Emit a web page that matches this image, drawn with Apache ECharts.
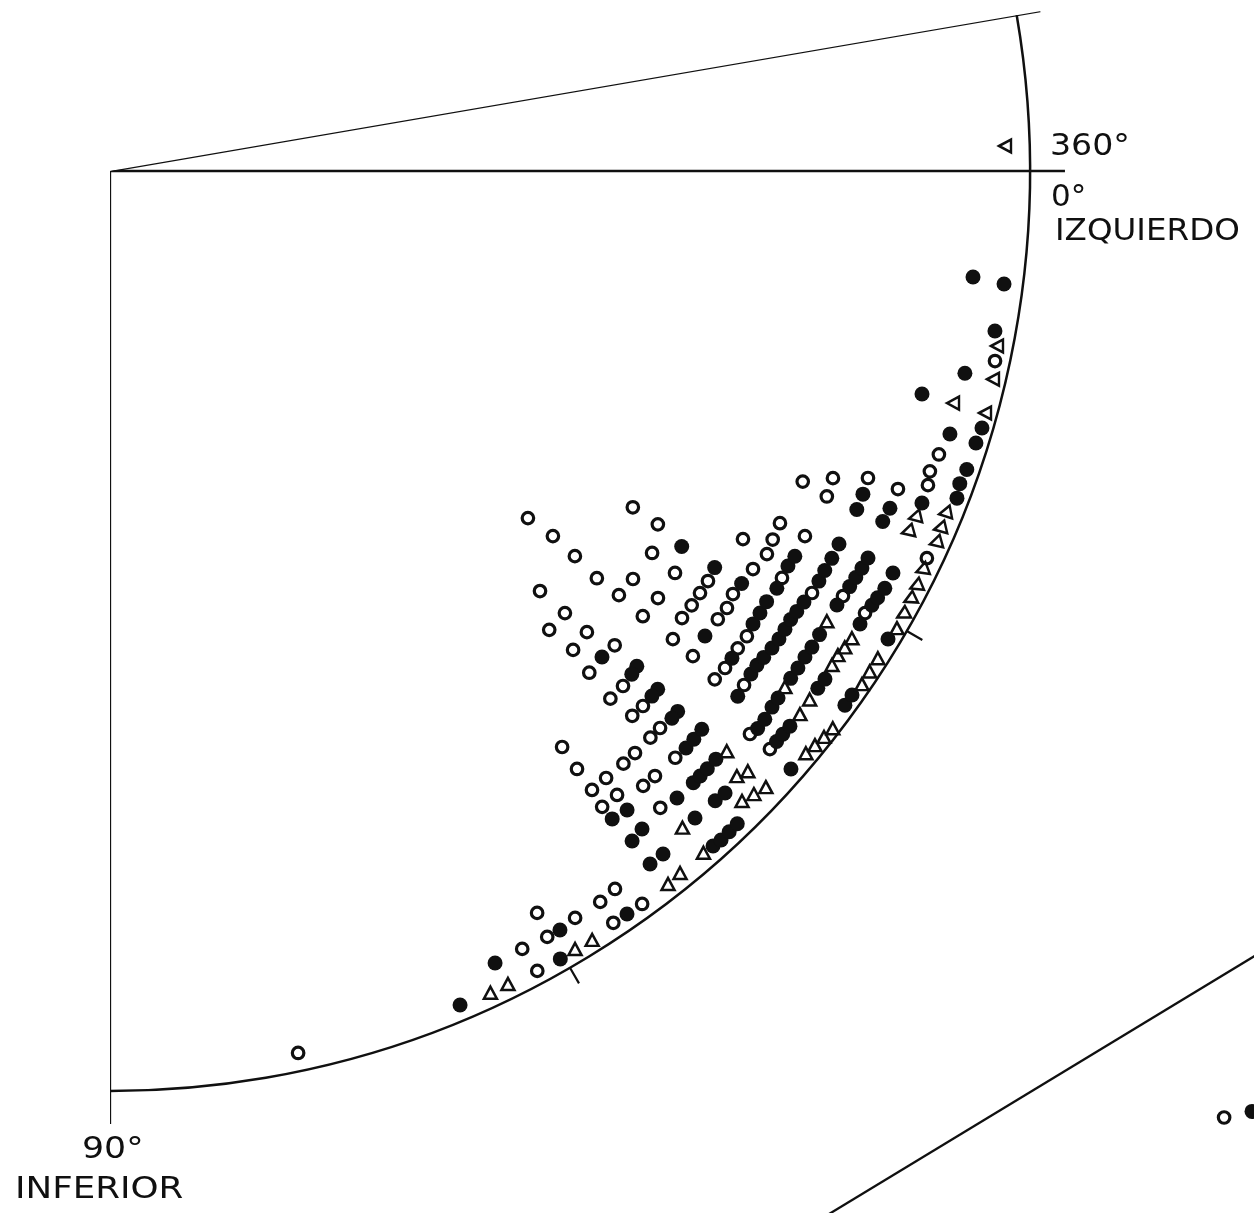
<!DOCTYPE html>
<html>
<head>
<meta charset="utf-8">
<script src="https://cdn.jsdelivr.net/npm/echarts@6/dist/echarts.min.js"></script>
<style>
  html, body { margin: 0; padding: 0; background: #ffffff; }
  #chart { width: 1254px; height: 1213px; }
</style>
</head>
<body>
<div id="chart"></div>
<script>
// Each point: [angle in degrees (0 = izquierdo, 90 = inferior), eccentricity (outer arc = 100)]
const openCircles = [
  [39.71,59.05],[39.50,62.39],[39.64,65.62],[44.33,65.34],[39.91,68.99],[44.18,68.95],[46.25,69.04],
  [44.04,72.11],[45.96,72.41],[43.22,75.28],[46.31,75.42],[32.75,67.57],[32.82,70.86],[35.17,72.08],
  [37.96,72.10],[39.81,72.01],[37.93,75.51],[39.88,75.47],[35.43,75.37],[39.75,79.58],[39.77,82.43],
  [38.01,78.91],[36.75,78.91],[35.58,78.85],[34.44,78.81],
  [45.11,79.01],[46.52,79.04],[45.11,82.08],[46.21,82.03],[45.36,85.09],[46.36,85.11],[46.07,88.56],
  [47.95,85.20],[49.10,85.23],[47.99,88.51],[49.07,88.46],[49.17,91.48],[51.87,79.59],[52.01,82.47],
  [50.74,85.21],[52.09,85.27],[50.90,87.39],[52.26,87.40],
  [36.41,82.09],[35.31,82.18],[34.18,81.85],[31.76,82.20],[30.25,82.66],[29.08,82.42],[27.73,82.27],
  [30.18,79.59],[27.72,85.33],[24.15,82.52],[23.02,85.38],[24.42,85.57],[22.05,88.89],[21.98,92.36],
  [40.05,85.87],[38.94,85.95],[37.25,85.72],[36.15,85.73],[31.20,85.39],[39.03,88.72],[31.01,89.03],
  [41.34,92.65],[30.11,92.10],[41.22,95.36],[30.35,95.10],[25.36,98.26],[18.88,95.22],[20.12,94.91],
  [21.01,95.24],[12.12,98.39],
  [77.96,98.02],[62.08,95.69],[61.89,98.57],[60.07,93.05],[60.28,95.86],[58.09,95.64],[56.15,95.66],
  [54.88,95.41],[56.20,98.34],[54.02,98.45]
];

const filledCircles = [
  [44.65,75.17],[33.30,74.35],[43.23,78.59],[43.96,78.79],[43.42,81.96],[44.10,82.02],[43.59,85.19],
  [44.24,85.25],[45.05,88.62],[44.22,88.55],[43.33,88.43],[33.26,78.60],[38.01,82.08],[33.15,82.00],
  [38.07,85.87],
  [35.16,85.49],[34.22,85.44],[33.26,85.35],[32.03,85.50],[30.23,85.29],[29.36,85.41],
  [39.92,88.97],[38.13,88.56],[37.38,88.48],[36.65,88.57],[35.78,88.69],[34.98,88.74],[34.17,88.67],
  [33.38,88.60],[32.67,88.68],[31.85,88.80],[30.05,89.02],[29.20,89.00],[28.22,89.04],[27.10,89.01],
  [40.72,92.88],[39.94,92.83],[39.00,92.59],[38.27,92.49],[36.70,92.28],[35.85,92.25],[34.97,92.18],
  [34.15,92.19],[33.16,92.13],[30.84,92.03],[29.33,92.22],[28.59,92.32],[27.84,92.43],[27.05,92.51],
  [40.56,95.37],[39.94,95.37],[39.23,95.41],[36.16,95.29],[35.40,95.34],[31.13,95.24],[29.68,95.32],
  [29.07,95.46],[28.31,95.66],[27.18,95.67],
  [41.29,98.51],[36.01,98.75],[35.23,98.74],[31.03,98.69],
  [23.23,89.06],[24.38,89.12],[23.38,92.36],[24.40,92.23],[22.24,95.35],[21.12,98.69],[20.20,98.42],
  [19.21,98.62],[17.39,95.67],[17.44,98.66],[16.42,98.81],[15.36,91.53],[13.31,95.49],[10.25,97.75],
  [7.00,94.51],[7.20,97.95],
  [47.88,91.89],[47.88,94.81],[46.36,91.87],[45.71,91.86],[45.02,91.85],[44.15,91.78],[46.14,94.94],
  [45.32,95.08],[48.22,98.38],[47.59,98.48],[46.86,98.43],[46.14,98.40],[52.22,89.10],[51.02,89.35],
  [52.07,92.32],[51.04,91.97],[52.07,95.50],[51.00,95.52],[55.17,98.39],[59.34,95.91],[60.25,98.64],
  [64.07,95.72],[67.23,98.31]
];

const triangles = [
  [-1.60,97.32],[11.16,98.27],[13.27,98.61],[15.39,95.04],[15.46,98.68],
  [22.28,98.08],[23.29,98.21],[24.24,98.42],[26.17,98.34],[27.25,98.54],[28.17,98.62],[29.23,98.73],
  [30.15,98.92],[23.28,95.24],[24.33,95.16],
  [38.21,95.44],[37.07,95.31],[34.38,95.09],[33.63,95.02],[32.96,95.18],[32.20,95.30],
  [37.41,92.35],[32.13,92.01],
  [39.92,98.62],[39.16,98.82],[38.40,99.03],[37.63,99.20],[34.31,98.95],[33.38,98.88],[32.40,98.85],
  [48.92,94.69],[43.25,92.04],[43.99,94.71],[43.26,95.20],[44.91,97.00],[44.06,97.39],[43.21,97.81],
  [48.96,98.24],[51.95,98.41],[50.92,98.29],[59.13,98.52],[57.91,98.65],[65.16,98.43],[63.92,98.39]
];

// points of the neighbouring diagram, cut by the page edge
const nextOpen = [[40.35,158.9]];
const nextFilled = [[39.47,160.8]];

// frame rays and the edge of the neighbouring diagram: [angle, eccentricity]
const rayUpper = [[-9.75,0],[-9.75,102.6]];
const rayZero = [[0,0],[0,103.8]];
const rayNinety = [[90,0],[90,103.6]];
const nextFrame = [[57.47,137.5],[32.50,153.3]];

const arcTicks = [30, 60];

const INK = '#101010';
const CENTER = [110, 171];
const ARC_PX = 920;      // pixel radius of eccentricity 100
const OUTER_MAX = 170;   // reach of the second (frame) polar system

const toPolar = pts => pts.map(([a, e]) => [e, a]);

// symbols written along the upper part of the arc are turned with it
const triRotate = v => {
  const a = v[1];
  if (a < 18) return 90;
  if (a < 30) return 90 + (a - 18) * 2.5;
  return 0;
};

function frameLine(pts) {
  return {
    type: 'line', coordinateSystem: 'polar', polarIndex: 1, data: toPolar(pts),
    symbol: 'none', clip: false, silent: true,
    lineStyle: { color: INK, width: 2.3 }
  };
}

const hiddenAxis = {
  axisLine: { show: false }, axisTick: { show: false },
  axisLabel: { show: false }, splitLine: { show: false }, splitArea: { show: false }
};

const chart = echarts.init(document.getElementById('chart'), null, { renderer: 'canvas' });

chart.setOption({
  animation: false,
  backgroundColor: '#ffffff',
  polar: [
    { center: CENTER, radius: ARC_PX },
    { center: CENTER, radius: ARC_PX * OUTER_MAX / 100 }
  ],
  angleAxis: [
    {
      polarIndex: 0, type: 'value', min: -9.75, max: 90,
      startAngle: 9.75, endAngle: -90, clockwise: true,
      axisLine: { show: true, lineStyle: { color: INK, width: 2.5 } },
      axisTick: { show: true, customValues: arcTicks, length: 18, inside: false,
                  lineStyle: { color: INK, width: 2.2 } },
      axisLabel: { show: false },
      splitLine: { show: false },
      splitArea: { show: false }
    },
    Object.assign({ polarIndex: 1, type: 'value', min: -9.75, max: 90,
                    startAngle: 9.75, endAngle: -90, clockwise: true }, hiddenAxis)
  ],
  radiusAxis: [
    Object.assign({ polarIndex: 0, type: 'value', min: 0, max: 100 }, hiddenAxis),
    Object.assign({ polarIndex: 1, type: 'value', min: 0, max: OUTER_MAX }, hiddenAxis)
  ],
  series: [
    frameLine(rayUpper),
    frameLine(rayZero),
    frameLine(rayNinety),
    frameLine(nextFrame),
    {
      type: 'scatter', coordinateSystem: 'polar', polarIndex: 0, data: toPolar(openCircles),
      symbol: 'circle', symbolSize: 11.5, clip: false,
      itemStyle: { color: 'rgba(0,0,0,0)', borderColor: INK, borderWidth: 3.2, opacity: 1 }
    },
    {
      type: 'scatter', coordinateSystem: 'polar', polarIndex: 0, data: toPolar(filledCircles),
      symbol: 'circle', symbolSize: 15, clip: false,
      itemStyle: { color: INK, opacity: 1 }
    },
    {
      type: 'scatter', coordinateSystem: 'polar', polarIndex: 0, data: toPolar(triangles),
      symbol: 'triangle', symbolSize: [13, 12], clip: false,
      symbolRotate: triRotate,
      itemStyle: { color: 'rgba(0,0,0,0)', borderColor: INK, borderWidth: 2.5, opacity: 1 }
    },
    {
      type: 'scatter', coordinateSystem: 'polar', polarIndex: 1, data: toPolar(nextOpen),
      symbol: 'circle', symbolSize: 11.5, clip: false,
      itemStyle: { color: 'rgba(0,0,0,0)', borderColor: INK, borderWidth: 3.2, opacity: 1 }
    },
    {
      type: 'scatter', coordinateSystem: 'polar', polarIndex: 1, data: toPolar(nextFilled),
      symbol: 'circle', symbolSize: 15, clip: false,
      itemStyle: { color: INK, opacity: 1 }
    }
  ],
  graphic: [
    { type: 'text', x: 1050, y: 147, scaleX: 1.07,
      style: { text: '360°', font: '31px "DejaVu Sans"', fill: INK, align: 'left', verticalAlign: 'middle' } },
    { type: 'text', x: 1051, y: 198,
      style: { text: '0°', font: '31px "DejaVu Sans"', fill: INK, align: 'left', verticalAlign: 'middle' } },
    { type: 'text', x: 1055, y: 232, scaleX: 1.05,
      style: { text: 'IZQUIERDO', font: '31px "DejaVu Sans"', fill: INK, align: 'left', verticalAlign: 'middle' } },
    { type: 'text', x: 82, y: 1150, scaleX: 1.12,
      style: { text: '90°', font: '31px "DejaVu Sans"', fill: INK, align: 'left', verticalAlign: 'middle' } },
    { type: 'text', x: 15, y: 1190, scaleX: 1.15,
      style: { text: 'INFERIOR', font: '31px "DejaVu Sans"', fill: INK, align: 'left', verticalAlign: 'middle' } }
  ]
});
</script>
</body>
</html>
